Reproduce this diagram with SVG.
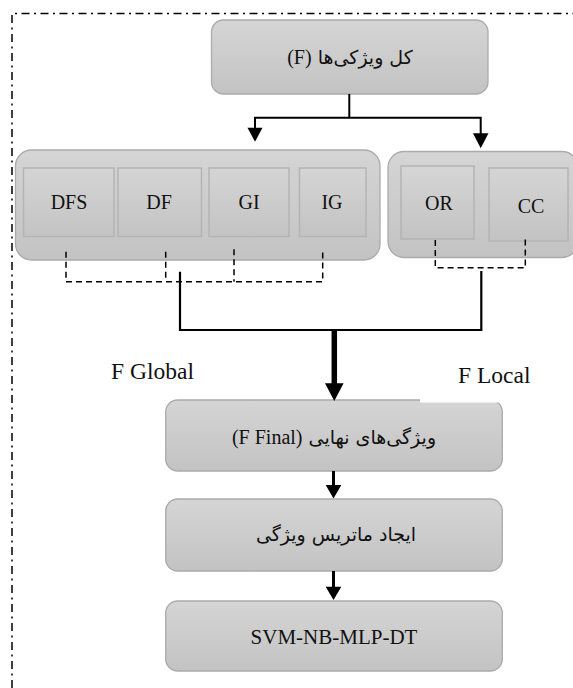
<svg xmlns="http://www.w3.org/2000/svg" width="573" height="688" viewBox="0 0 573 688">
<defs>
<linearGradient id="g" x1="0" y1="0" x2="0" y2="1">
<stop offset="0" stop-color="#d5d5d5"/>
<stop offset="1" stop-color="#c3c3c3"/>
</linearGradient>
<style>
.box{fill:url(#g);stroke:#ababab;stroke-width:1.3}
.inner{fill:url(#g);stroke:#b4b4b4;stroke-width:1.5}
.t{font-family:'Liberation Serif',serif;font-size:20px;fill:#111;text-anchor:middle}
.fa{font-family:'DejaVu Sans',sans-serif;font-size:19px;fill:#111;text-anchor:middle;direction:rtl}
.la{font-family:'Liberation Serif',serif;font-size:20px}
.lbl{font-family:'Liberation Serif',serif;font-size:23.5px;fill:#111}
.ln{fill:none;stroke:#000;stroke-width:2}
.dash{fill:none;stroke:#000;stroke-width:1.5;stroke-dasharray:6 4}
.head{fill:#000}
</style>
</defs>
<rect width="573" height="688" fill="#fff"/>
<path d="M12,688 V13.5 H573" fill="none" stroke="#000" stroke-width="1.5" stroke-dasharray="8 4.5 2 4.5"/>

<g id="top">
<rect class="box" x="211.5" y="20" width="276.5" height="74" rx="12"/>
<text class="fa" x="350" y="64">کل ویژکی‌ها <tspan class="la">(F)</tspan></text>
</g>

<g id="global">
<rect class="box" x="15.5" y="150" width="364.5" height="110" rx="16"/>
<g id="dfs"><rect class="inner" x="23.5" y="168" width="90.5" height="68.5"/><text class="t" x="69" y="209">DFS</text></g>
<g id="df"><rect class="inner" x="118" y="168" width="83.5" height="68.5"/><text class="t" x="159" y="209">DF</text></g>
<g id="gi"><rect class="inner" x="209" y="168" width="80" height="68.5"/><text class="t" x="249" y="209">GI</text></g>
<g id="ig"><rect class="inner" x="299.5" y="168" width="66.5" height="68.5"/><text class="t" x="332" y="209">IG</text></g>
</g>

<g id="local">
<rect class="box" x="388" y="151.5" width="190" height="106" rx="16"/>
<g id="or"><rect class="inner" x="401" y="166" width="73" height="73"/><text class="t" x="439" y="210">OR</text></g>
<g id="cc"><rect class="inner" x="489" y="168" width="79" height="73"/><text class="t" x="531" y="213">CC</text></g>
</g>

<g id="labels">
<text class="lbl" x="111" y="379">F Global</text>
<rect x="420" y="355" width="100" height="47.5" fill="#fff"/>
<text class="lbl" x="458" y="382.7">F Local</text>
</g>

<g id="final">
<rect class="box" x="165.7" y="400" width="336.6" height="71" rx="12"/>
<rect x="420" y="398" width="90" height="4.5" fill="#fff"/>
<text class="fa" x="334" y="444">ویژگی‌های نهایی <tspan class="la">(F Final)</tspan></text>
</g>

<g id="matrix">
<rect class="box" x="165.7" y="499" width="336.6" height="72" rx="12"/>
<text class="fa" x="336" y="541">ایجاد ماتریس ویژگی</text>
</g>

<g id="clf">
<rect class="box" x="165.7" y="601" width="336.6" height="70" rx="12"/>
<text class="t" x="334" y="643.5" style="font-size:21px">SVM-NB-MLP-DT</text>
</g>

<g id="connectors">
<path class="ln" d="M349.3,94 V117.7 M255,117.7 H480.7 M255,116.7 V128 M480.7,116.7 V134"/>
<polygon class="head" points="247.5,127.7 262.5,127.7 255,141.7"/>
<polygon class="head" points="473,133.3 488.5,133.3 480.7,148.3"/>
<path class="dash" d="M66,251.7 V281.7 H322.7 V250.7 M165.7,251.7 V281.7 M234,249.3 V281.7"/>
<path class="dash" d="M435.3,240 V267.7 H525.3 V237.3"/>
<path class="ln" d="M180,271.7 V330 H481.3 V271" style="stroke-width:2.2"/>
<path class="ln" d="M334.3,330 V385" style="stroke-width:5.5"/>
<polygon class="head" points="325,383.3 343.6,383.3 334.3,401"/>
<path class="ln" d="M333.5,471 V486" style="stroke-width:3"/>
<polygon class="head" points="325.7,485 341.3,485 333.5,498.5"/>
<path class="ln" d="M333.5,571 V588" style="stroke-width:3"/>
<polygon class="head" points="325.7,586.7 341.3,586.7 333.5,600"/>
</g>
</svg>
